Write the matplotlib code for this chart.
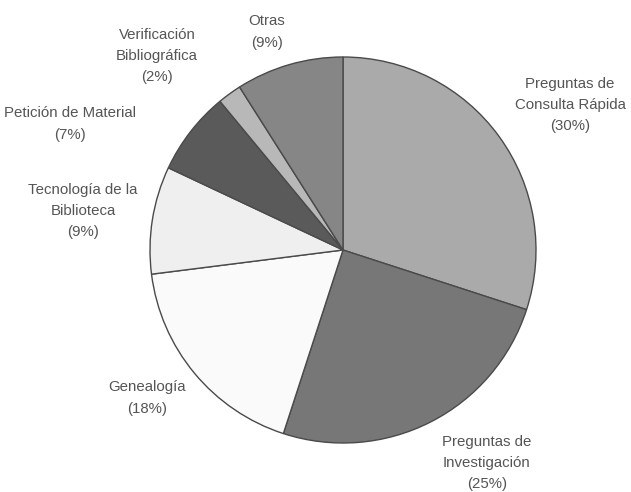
import numpy as np
from matplotlib import pyplot as plt

# Reference desk question types (percent)
labels = ['Preguntas de\nConsulta Rápida', 'Preguntas de\nInvestigación', 'Genealogía',
          'Tecnología de la\nBiblioteca', 'Petición de Material', 'Verificación\nBibliográfica', 'Otras']
values = [30, 25, 18, 9, 7, 2, 9]
colors = ['#aaaaaa', '#777777', '#fafafa', '#efefef', '#5a5a5a', '#b8b8b8', '#868686']

# label centres in pixel coords (x, y from top)
label_pos = [(570, 105), (487, 463), (147, 398), (83, 211), (70, 124), (157, 56), (267, 32)]

W, H = 631, 492
fig = plt.figure(figsize=(W / 100, H / 100), dpi=100)
ax = fig.add_axes([0, 0, 1, 1])

cx, cy, r = 343, H - 250, 193
ax.pie(values, colors=colors, startangle=90, counterclock=False,
       center=(cx, cy), radius=r, frame=True,
       wedgeprops=dict(edgecolor='#4a4a4a', linewidth=1.0))
ax.set_xlim(0, W)
ax.set_ylim(0, H)
ax.set_aspect('equal')
ax.axis('off')

for lab, v, (x, y) in zip(labels, values, label_pos):
    ax.text(x, H - y, '{}\n({}%)'.format(lab, v), ha='center', va='center',
            fontsize=10.8, family='Liberation Sans', color='#555555', linespacing=1.65)

fig.savefig('out.png', dpi=100)
